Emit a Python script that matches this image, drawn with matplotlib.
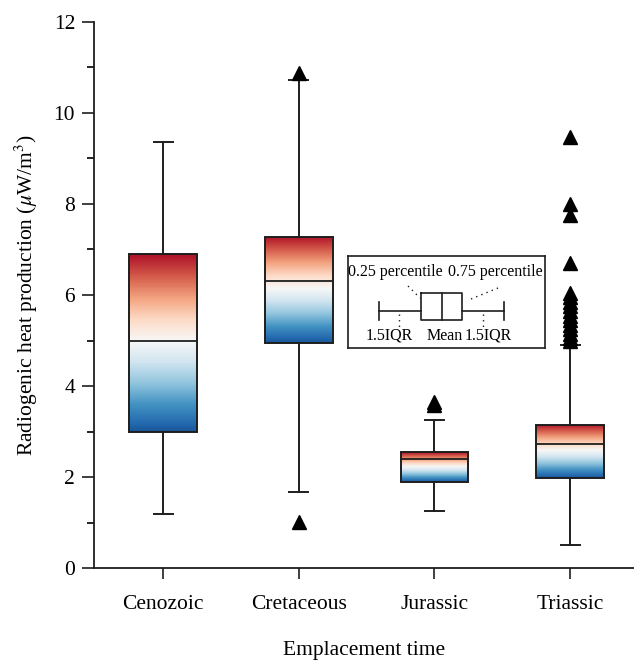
import numpy as np
import matplotlib
matplotlib.use("Agg")
import matplotlib.pyplot as plt
from matplotlib.colors import ListedColormap

plt.rcParams['font.family'] = ['Liberation Serif', 'DejaVu Serif']
plt.rcParams['mathtext.fontset'] = 'stix'

# box statistics
categories = ['Cenozoic', 'Cretaceous', 'Jurassic', 'Triassic']
whislo = [1.2, 1.67, 1.25, 0.5]
q1 = [3.0, 4.95, 1.9, 1.98]
med = [5.0, 6.3, 2.4, 2.72]
q3 = [6.9, 7.28, 2.55, 3.15]
whishi = [9.37, 10.72, 3.25, 4.9]
fliers = [
    [],
    [10.88, 1.02],
    [3.65, 3.58],
    [9.47, 8.0, 7.75, 6.7, 6.05, 5.95, 5.85, 5.75, 5.65, 5.55, 5.45,
     5.35, 5.25, 5.15, 5.05, 4.98],
]

stats = []
for i, name in enumerate(categories):
    stats.append(dict(label=name, whislo=whislo[i], q1=q1[i], med=med[i],
                      q3=q3[i], whishi=whishi[i], fliers=fliers[i]))

cmap = ListedColormap(plt.cm.RdBu_r(np.linspace(0.07, 0.91, 256)))
edge = '#1e1e1e'

fig = plt.figure(figsize=(6.34, 6.6), dpi=100)
ax = fig.add_axes([0.148, 0.139, 0.852, 0.828])

pos = np.arange(1, len(categories) + 1)
bw = 0.5
bp = ax.bxp(stats, positions=pos, widths=bw, patch_artist=True,
            capwidths=0.14,
            boxprops=dict(facecolor='none', edgecolor=edge, linewidth=1.4),
            medianprops=dict(color=edge, linewidth=1.3),
            whiskerprops=dict(color=edge, linewidth=1.4),
            capprops=dict(color=edge, linewidth=1.4),
            flierprops=dict(marker='^', markersize=9.5, markerfacecolor='k',
                            markeredgecolor='k', linestyle='none'))

grad = np.linspace(0, 1, 256).reshape(-1, 1)
for i, box in enumerate(bp['boxes']):
    im = ax.imshow(grad, cmap=cmap, origin='lower', aspect='auto',
                   extent=[pos[i] - bw / 2, pos[i] + bw / 2, q1[i], q3[i]],
                   zorder=1.5)
    im.set_clip_path(box)

ax.set_xlim(0.49, 4.47)
ax.set_ylim(0, 12)
ax.set_yticks(range(0, 13, 2))
ax.set_yticks(range(1, 12, 2), minor=True)
ax.set_xticks(pos)
ax.set_xticklabels(categories)
ax.tick_params(axis='both', direction='out', labelsize=15.5, width=1.2, color=edge)
ax.tick_params(axis='y', which='major', length=8.5, pad=5)
ax.tick_params(axis='y', which='minor', length=5, width=1.2)
ax.tick_params(axis='x', length=8, pad=11)
for s in ['top', 'right']:
    ax.spines[s].set_visible(False)
for s in ['left', 'bottom']:
    ax.spines[s].set_linewidth(1.3)
    ax.spines[s].set_color(edge)

ax.set_ylabel(r'Radiogenic heat production ($\mu$W/m$^3$)', fontsize=15.5, labelpad=10)
ax.set_xlabel('Emplacement time', fontsize=15.5, labelpad=20)

# schematic key
lg = fig.add_axes([348 / 634, 1 - 348 / 660, 197 / 634, 92 / 660])
lg.set_xlim(0, 197)
lg.set_ylim(92, 0)
lg.set_xticks([])
lg.set_yticks([])
for s in lg.spines.values():
    s.set_linewidth(1.2)
    s.set_color(edge)
kw = dict(color=edge, linewidth=1.2)
lg.plot([31, 73], [55, 55], **kw)
lg.plot([114, 156], [55, 55], **kw)
lg.plot([31, 31], [46, 64], **kw)
lg.plot([156, 156], [46, 64], **kw)
lg.plot([73, 114, 114, 73, 73], [37, 37, 64, 64, 37], **kw)
lg.plot([94, 94], [37, 64], **kw)
dot = dict(color=edge, linewidth=1.0, linestyle=(0, (1, 3)))
lg.plot([60, 72], [30, 42], **dot)
lg.plot([150, 123], [32, 43], **dot)
lg.plot([51, 51], [58, 72], **dot)
lg.plot([135, 135], [58, 72], **dot)
tk = dict(fontsize=11.5, ha='center', va='center')
lg.text(47, 16, '0.25 percentile', **tk)
lg.text(147, 16, '0.75 percentile', **tk)
lg.text(41, 80, '1.5IQR', **tk)
lg.text(97, 80, 'Mean', **tk)
lg.text(140, 80, '1.5IQR', **tk)

fig.savefig('out.png', dpi=100)
